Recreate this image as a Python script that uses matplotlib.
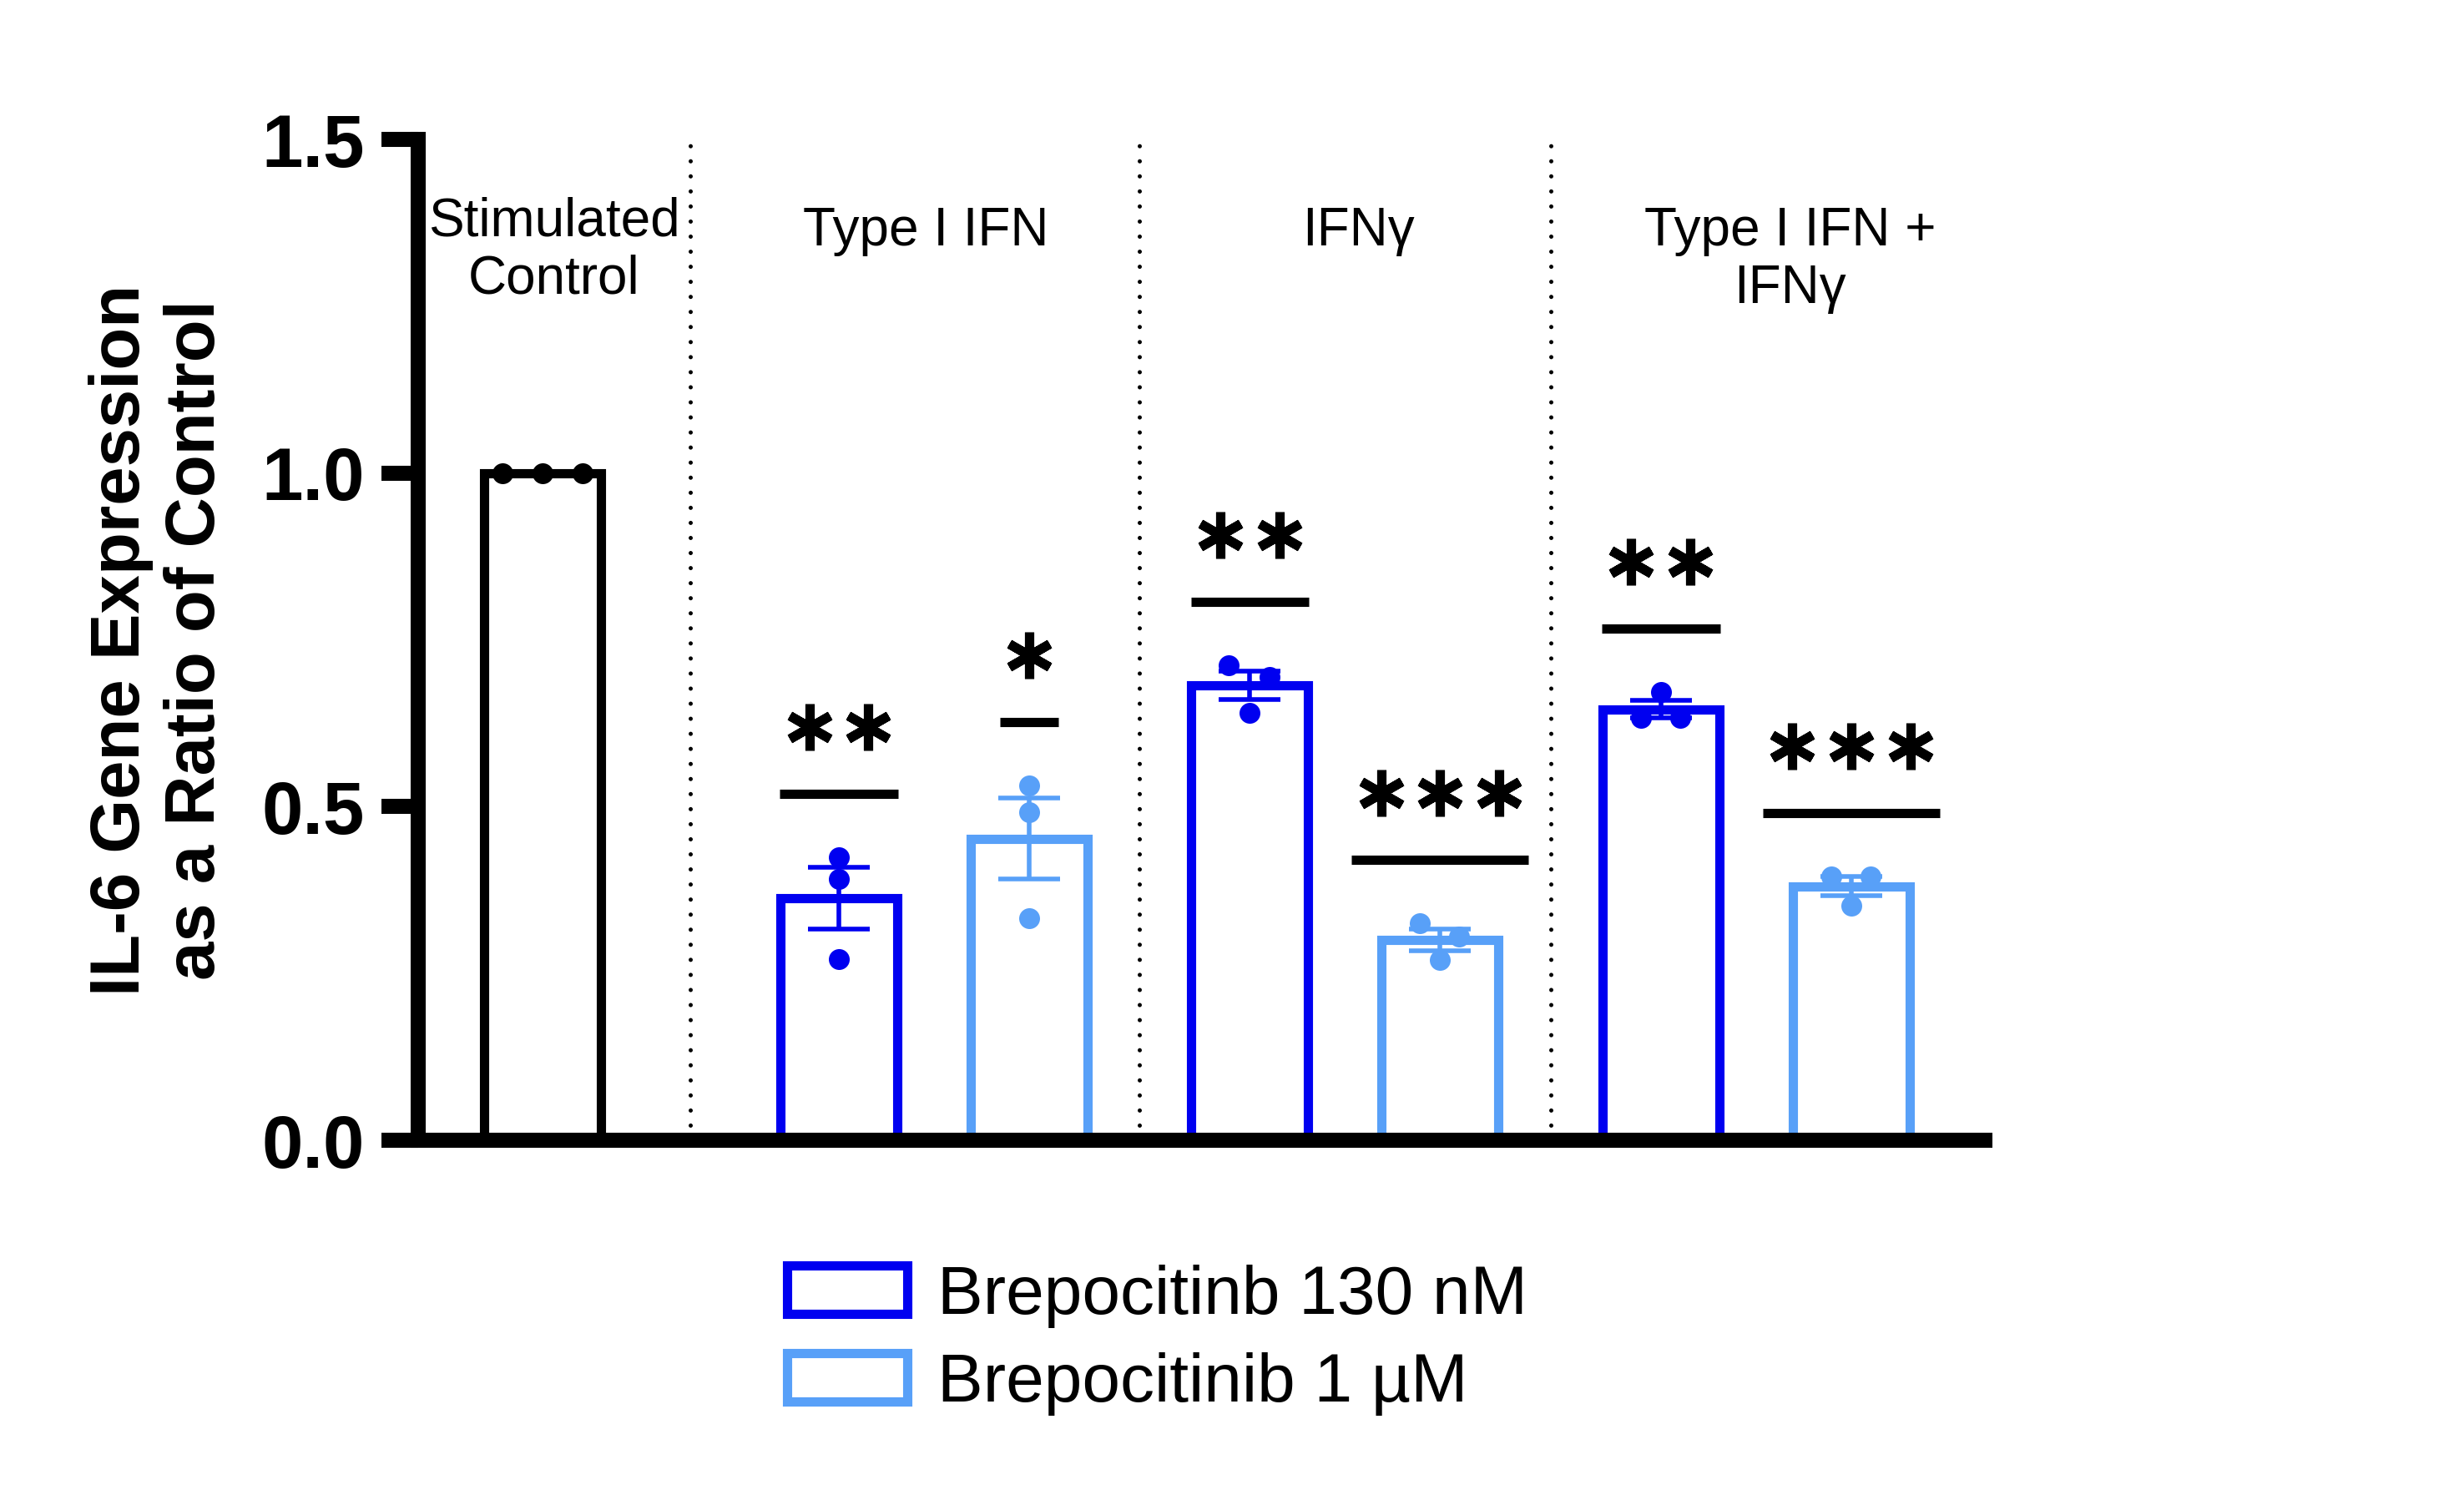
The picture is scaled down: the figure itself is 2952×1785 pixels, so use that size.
import numpy as np
import matplotlib.pyplot as plt
from matplotlib.patches import Patch

plt.rcParams['font.family'] = ['Liberation Sans', 'DejaVu Sans']

# data (3 replicates per bar)
group_labels = ["Stimulated\nControl", "Type I IFN", "IFNγ", "Type I IFN +\nIFNγ"]
series_labels = ["Brepocitinb 130 nM", "Brepocitinib 1 µM"]
control_pts = [1.0, 1.0, 1.0]
nm130_pts = [[0.424, 0.392, 0.272],
             [0.712, 0.694, 0.641],
             [0.672, 0.633, 0.633]]
um1_pts = [[0.532, 0.492, 0.333],
           [0.325, 0.305, 0.270],
           [0.395, 0.395, 0.352]]
nm130_stars = ["**", "**", "**"]
um1_stars = ["*", "***", "***"]

# layout
blue = '#0000F0'
light = '#58A0F8'
bw = 0.615
x_ctrl = 0.0
group_x0 = 1.557
group_step = 2.16
ctrl_jit = [-0.21, 0.0, 0.21]
nm130_jit = [[0, 0, 0], [-0.11, 0.105, 0], [0, -0.105, 0.10]]
um1_jit = [[0, 0, 0], [-0.105, 0.10, 0], [-0.105, 0.10, 0]]
label_nudge = [0.06, -0.04, 0.07, 0.18]

fig = plt.figure(figsize=(14.76, 8.925), dpi=200)
ax = fig.add_axes([0.1697, 0.2347, 0.6359, 0.6717])


def draw_bar(x, pts, color, jit):
    pts = np.asarray(pts)
    m = pts.mean()
    sem = pts.std(ddof=1) / np.sqrt(len(pts))
    ax.bar(x, m, width=bw, facecolor='white', edgecolor=color, linewidth=4, zorder=2)
    ax.errorbar(x, m, yerr=sem, color=color, capsize=13.3, elinewidth=2,
                capthick=2, zorder=3)
    ax.plot(x + np.asarray(jit), pts, 'o', color=color, ms=9, mew=0, zorder=4)
    return pts.max()


def draw_sig(x, top, stars):
    n = len(stars)
    y = top + 0.095
    ax.plot([x - 0.155 * n, x + 0.155 * n], [y, y], color='k', lw=4,
            solid_capstyle='butt', zorder=3)
    sx = x + (np.arange(n) - (n - 1) / 2) * 0.31
    ax.plot(sx, np.full(n, y + 0.10), ls='none', marker=(6, 2, 0), ms=20,
            mew=4, color='k', zorder=3)


draw_bar(x_ctrl, control_pts, 'k', ctrl_jit)
centers = [x_ctrl]
for g in range(3):
    xa = group_x0 + g * group_step
    xb = xa + 1.0
    top = draw_bar(xa, nm130_pts[g], blue, nm130_jit[g])
    draw_sig(xa, top, nm130_stars[g])
    top = draw_bar(xb, um1_pts[g], light, um1_jit[g])
    draw_sig(xb, top, um1_stars[g])
    centers.append((xa + xb) / 2)

# dotted separators between groups
seps = [(x_ctrl + group_x0) / 2] + [group_x0 + g * group_step + 1.0 + (group_step - 1.0) / 2 for g in range(2)]
for s in seps:
    ax.plot([s, s], [0, 1.5], color='k', lw=1.8, ls=(0, (0.01, 3.6)),
            dash_capstyle='round', zorder=1)

for i, lab in enumerate(group_labels):
    y = 1.415 if i == 0 else 1.40
    ax.text(centers[i] + label_nudge[i], y, lab, ha='center', va='top', fontsize=23)

ax.set_xlim(-0.653, 7.58)
ax.set_ylim(0, 1.5)
ax.set_xticks([])
ax.set_yticks([0, 0.5, 1.0, 1.5])
ax.tick_params(axis='y', length=16, width=6.5, pad=7, labelsize=32)
for t in ax.get_yticklabels():
    t.set_fontweight('bold')
for side in ['top', 'right']:
    ax.spines[side].set_visible(False)
for side in ['left', 'bottom']:
    ax.spines[side].set_linewidth(6.5)
    ax.spines[side].set_capstyle('projecting')
    ax.spines[side].set_zorder(5)

ax.set_ylabel("IL-6 Gene Expression\nas a Ratio of Control", fontsize=30, fontweight='bold')
ax.yaxis.set_label_coords(-0.121, 0.5)

handles = [Patch(facecolor='white', edgecolor=blue, lw=4),
           Patch(facecolor='white', edgecolor=light, lw=4)]
fig.legend(handles, series_labels, loc='upper left', bbox_to_anchor=(0.3195, 0.1513),
           frameon=False, fontsize=29.5, handlelength=1.75, handleheight=0.71,
           handletextpad=0.45, labelspacing=0.35, borderpad=0, borderaxespad=0)

fig.savefig('out.png', dpi=200)
